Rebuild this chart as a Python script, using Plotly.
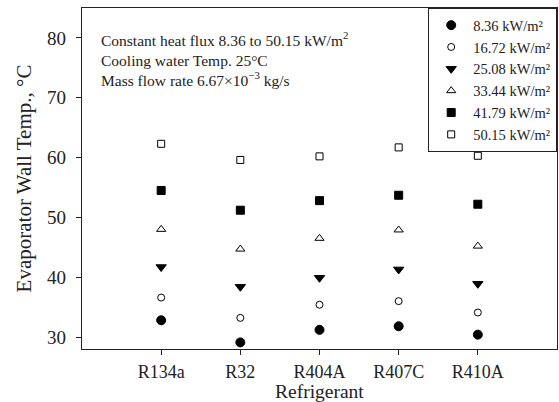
import plotly.graph_objects as go

refrigerants = ["R134a", "R32", "R404A", "R407C", "R410A"]
heat_flux_labels = ["8.36 kW/m²", "16.72 kW/m²", "25.08 kW/m²",
                    "33.44 kW/m²", "41.79 kW/m²", "50.15 kW/m²"]

# Evaporator wall temperature (°C) per refrigerant, one list per heat flux
t_8_36 = [32.8, 29.1, 31.2, 31.8, 30.4]
t_16_72 = [36.6, 33.2, 35.4, 36.0, 34.1]
t_25_08 = [41.7, 38.4, 39.9, 41.3, 38.9]
t_33_44 = [48.0, 44.7, 46.5, 47.9, 45.2]
t_41_79 = [54.5, 51.2, 52.8, 53.7, 52.2]
t_50_15 = [62.3, 59.6, 60.2, 61.7, 60.3]

series = [t_8_36, t_16_72, t_25_08, t_33_44, t_41_79, t_50_15]
symbols = ["circle", "circle-open", "triangle-down", "triangle-up-open", "square", "square-open"]
sizes = [9, 7, 9, 8, 8, 7]

x_idx = list(range(len(refrigerants)))
fig = go.Figure()
for vals, name, sym, sz in zip(series, heat_flux_labels, symbols, sizes):
    fig.add_trace(go.Scatter(
        x=x_idx, y=vals, mode="markers", name=name,
        marker=dict(symbol=sym, size=sz, color="black", line=dict(color="black", width=1)),
    ))

serif = "Liberation Serif, Times New Roman, serif"
fig.update_layout(
    width=559, height=402,
    margin=dict(l=82, r=2, t=8, b=53),
    paper_bgcolor="white", plot_bgcolor="white",
    font=dict(family=serif, color="#222", size=16),
    showlegend=True,
    legend=dict(
        x=1, y=1, xanchor="right", yanchor="top",
        bgcolor="white", bordercolor="#222", borderwidth=1.2,
        font=dict(family=serif, size=14.5, color="#222"),
        itemwidth=34, tracegroupgap=0,
    ),
    xaxis=dict(
        range=[-1, 5], tickmode="array", tickvals=x_idx, ticktext=refrigerants,
        showgrid=False, zeroline=False, showline=True, linecolor="#222", linewidth=1.2,
        mirror=True, ticks="outside", ticklen=5, tickcolor="#222",
        ticklabelstandoff=1, automargin=False,
        tickfont=dict(size=18),
    ),
    yaxis=dict(
        range=[28, 85], tickvals=[30, 40, 50, 60, 70, 80],
        showgrid=False, zeroline=False, showline=True, linecolor="#222", linewidth=1.2,
        mirror=True, ticks="outside", ticklen=5, tickcolor="#222",
        ticklabelstandoff=6, automargin=False,
        tickfont=dict(size=19),
        title=dict(text="Evaporator Wall Temp., °C", font=dict(size=21), standoff=9),
    ),
)

# x-axis title sits below the category labels
fig.add_annotation(
    xref="paper", yref="paper", x=0.5, y=-0.157, xanchor="center", yanchor="bottom",
    showarrow=False, text="Refrigerant", borderpad=0,
    font=dict(family=serif, size=19.5, color="#222"),
)

fig.add_annotation(
    xref="paper", yref="paper", x=0.035, y=0.945, xanchor="left", yanchor="top",
    align="left", showarrow=False,
    text=("Constant heat flux 8.36 to 50.15 kW/m<sup>2</sup><br>"
          "Cooling water Temp. 25°C<br>"
          "Mass flow rate 6.67×10<sup>−3</sup> kg/s"),
    font=dict(family=serif, size=15.5, color="#222"),
)

fig.write_html("out.html")
